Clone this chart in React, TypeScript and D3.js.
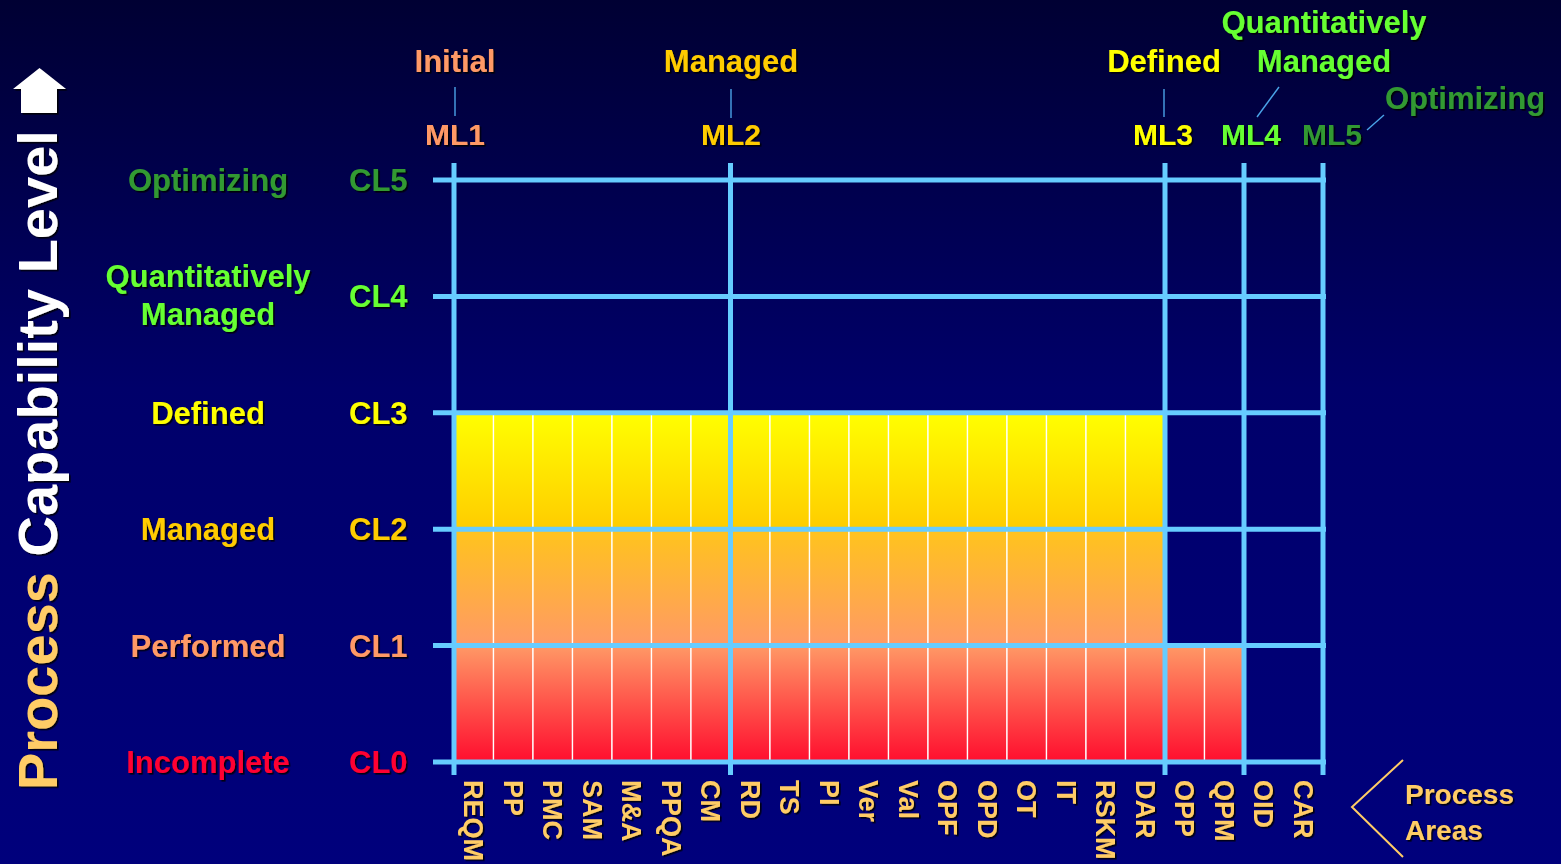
import React from "react";
import * as d3 from "d3";

// ---- data ----
const processAreas = [
  "REQM", "PP", "PMC", "SAM", "M&A", "PPQA", "CM",
  "RD", "TS", "PI", "Ver", "Val", "OPF", "OPD", "OT", "IT", "RSKM", "DAR",
  "OPP", "QPM",
  "OID", "CAR",
];
// capability level reached by each process area (staged target profile)
const capabilityReached = [
  3, 3, 3, 3, 3, 3, 3,
  3, 3, 3, 3, 3, 3, 3, 3, 3, 3, 3,
  1, 1,
  0, 0,
];
const capabilityCodes = ["CL0", "CL1", "CL2", "CL3", "CL4", "CL5"];
const capabilityNames = [
  ["Incomplete"], ["Performed"], ["Managed"], ["Defined"],
  ["Quantitatively", "Managed"], ["Optimizing"],
];
const maturityCodes = ["ML1", "ML2", "ML3", "ML4", "ML5"];
const maturityNames = [["Initial"], ["Managed"], ["Defined"], ["Quantitatively", "Managed"], ["Optimizing"]];
// index of first process area at which each maturity level boundary sits
const maturityBoundary = [0, 7, 18, 20, 22];

// ---- styles ----
const levelColors = ["#ff0033", "#ff9966", "#ffcc00", "#ffff00", "#66ff33", "#339933"];
const segmentGradients = [
  ["#ff0d2e", "#ff9966"],
  ["#ff9966", "#ffc41c"],
  ["#ffcc00", "#ffff00"],
];
const FONT = "'Liberation Sans', Arial, Helvetica, sans-serif";
const GRID = "#66ccff";
const PA_COLOR = "#ffcc66";

export default function App() {
  const W = 1561, H = 864;
  const x = d3.scaleBand<string>().domain(processAreas).range([454, 1323]).padding(0);
  const y = d3.scaleLinear().domain([0, 5]).range([762, 180]);
  const bw = x.bandwidth();
  const xEnd = x.range()[1];
  const bx = (i: number) => (i >= processAreas.length ? xEnd : (x(processAreas[i]) as number));

  const cells: { i: number; lvl: number }[] = [];
  capabilityReached.forEach((v, i) => {
    for (let l = 0; l < v; l++) cells.push({ i, lvl: l });
  });

  // maturity label positions (centers)
  const mlCenters = [455, 731, 1163, 1251, 1332];
  const mlNameCenters = [455, 731, 1164, 1324, 1465];
  const mlNameBaselines = [[72], [72], [72], [33, 72], [109]];
  const connectors = [
    [455, 87, 455, 116],
    [731, 89, 731, 118],
    [1164, 89, 1164, 117],
    [1279, 87, 1257, 117],
    [1384, 115, 1367, 130],
  ];

  return (
    <svg width={W} height={H} style={{ position: "absolute", left: 0, top: 0 }} fontFamily={FONT} fontWeight="bold">
      <defs>
        <linearGradient id="bg" x1="0" y1="0" x2="0" y2="1">
          <stop offset="0" stopColor="#000033" />
          <stop offset="0.45" stopColor="#00006a" />
          <stop offset="1" stopColor="#00007c" />
        </linearGradient>
        {segmentGradients.map((g, k) => (
          <linearGradient key={k} id={`seg${k}`} x1="0" y1="1" x2="0" y2="0">
            <stop offset="0" stopColor={g[0]} />
            <stop offset="1" stopColor={g[1]} />
          </linearGradient>
        ))}
        <filter id="sh" x="-10%" y="-10%" width="130%" height="130%">
          <feDropShadow dx="1.6" dy="1.6" stdDeviation="0.4" floodColor="#000000" floodOpacity="0.85" />
        </filter>
      </defs>
      <rect x={0} y={0} width={W} height={H} fill="url(#bg)" />

      {/* cells */}
      <g>
        {cells.map((c, k) => (
          <rect
            key={k}
            x={bx(c.i)}
            y={y(c.lvl + 1)}
            width={bw}
            height={y(c.lvl) - y(c.lvl + 1)}
            fill={`url(#seg${c.lvl})`}
            stroke="#ffffff"
            strokeWidth={1.3}
          />
        ))}
      </g>

      {/* grid */}
      <g stroke={GRID} strokeWidth={5}>
        {capabilityCodes.map((_, l) => (
          <line key={l} x1={433} x2={xEnd + 3} y1={y(l)} y2={y(l)} />
        ))}
        {maturityBoundary.map((b, k) => (
          <line key={k} x1={bx(b)} x2={bx(b)} y1={163} y2={775} />
        ))}
      </g>

      {/* connectors */}
      <g stroke="#4aa3e8" strokeWidth={1.4}>
        {connectors.map((c, k) => (
          <line key={k} x1={c[0]} y1={c[1]} x2={c[2]} y2={c[3]} />
        ))}
      </g>

      <g filter="url(#sh)">
        {/* maturity labels */}
        {maturityCodes.map((m, k) => (
          <text key={m} x={mlCenters[k]} y={145} fontSize={30} textAnchor="middle" fill={levelColors[k + 1]}>
            {m}
          </text>
        ))}
        {maturityNames.map((lines, k) =>
          lines.map((t, j) => (
            <text key={`${k}-${j}`} x={mlNameCenters[k]} y={mlNameBaselines[k][j]} fontSize={31} textAnchor="middle" fill={levelColors[k + 1]}>
              {t}
            </text>
          ))
        )}

        {/* capability labels */}
        {capabilityCodes.map((c, l) => (
          <text key={c} x={349} y={y(l) + 11} fontSize={31} fill={levelColors[l]}>
            {c}
          </text>
        ))}
        {capabilityNames.map((lines, l) =>
          lines.map((t, j) => (
            <text
              key={`${l}-${j}`}
              x={208}
              y={lines.length === 1 ? y(l) + 11 : y(l) - 9 + j * 38}
              fontSize={31}
              textAnchor="middle"
              fill={levelColors[l]}
            >
              {t}
            </text>
          ))
        )}

        {/* process area labels */}
        {processAreas.map((p) => (
          <text
            key={p}
            transform={`translate(${(x(p) as number) + bw / 2 - 9.5},780) rotate(90)`}
            fontSize={27}
            fill={PA_COLOR}
          >
            {p}
          </text>
        ))}

        {/* Process Areas note */}
        <text x={1405} y={804} fontSize={28} fill={PA_COLOR}>Process</text>
        <text x={1405} y={840} fontSize={28} fill={PA_COLOR}>Areas</text>

        {/* y-axis title */}
        <text transform="translate(57,790) rotate(-90)" fontSize={56}>
          <tspan fill={PA_COLOR}>Process</tspan>
          <tspan fill="#ffffff"> Capability Level</tspan>
        </text>
        <path d="M13,89 L39.5,68 L66,89 L57,89 L57,113 L21,113 L21,89 Z" fill="#ffffff" />
      </g>

      <polyline points="1403,760 1352,807 1403,857" fill="none" stroke={PA_COLOR} strokeWidth={2} />
    </svg>
  );
}
